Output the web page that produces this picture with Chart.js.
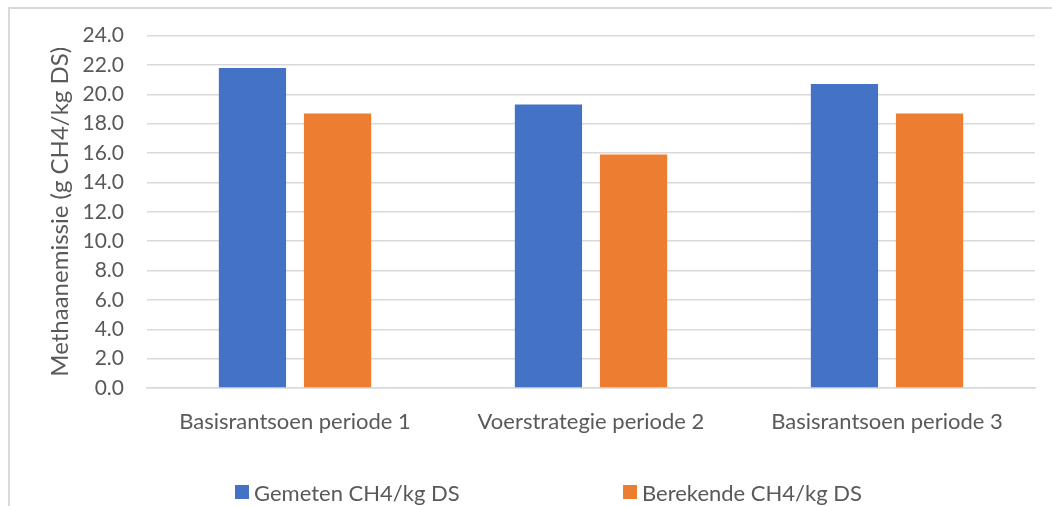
<!DOCTYPE html>
<html lang="nl">
<head>
<meta charset="utf-8">
<title>Methaanemissie per periode</title>
<script src="https://cdn.jsdelivr.net/npm/chart.js@4.4.1/dist/chart.umd.min.js"></script>
<style>
  html, body { margin: 0; padding: 0; background: #ffffff; }
  #wrap { position: relative; width: 1052px; height: 506px; overflow: hidden; }
  #frame {
    position: absolute; left: 8px; top: 7px; right: -20px; bottom: -20px;
    border: 2px solid #d9d9d9; pointer-events: none;
  }
  #chart { position: absolute; left: 0; top: 0; }
  #legend { position: absolute; left: 0; top: 480px; width: 1052px; height: 24px; }
  .legend-item {
    position: absolute; top: 0; height: 24px; display: flex; align-items: center;
    font-family: Lato, sans-serif; font-size: 22px; color: #595959; white-space: nowrap;
  }
  .legend-box { width: 14px; height: 14px; margin-right: 5px; }
</style>
</head>
<body>
<div id="wrap">
  <canvas id="chart" width="1052" height="506"></canvas>
  <div id="frame"></div>
  <div id="legend"></div>
</div>
<script>
// Periods on the category axis
const categories = ['Basisrantsoen periode 1', 'Voerstrategie periode 2', 'Basisrantsoen periode 3'];
// Methane emission, g CH4 per kg dry matter
const gemeten = [21.8, 19.3, 20.7];
const berekende = [18.7, 15.9, 18.7];
const seriesNames = ['Gemeten CH4/kg DS', 'Berekende CH4/kg DS'];
const seriesColors = ['#4472C4', '#ED7D31'];
// Value axis range and tick step
const yMin = 0;
const yMax = 24;
const yStep = 2;
const yTitle = 'Methaanemissie (g CH4/kg DS)';
// Left edge of each legend entry
const legendLefts = [235, 623];

const textColor = '#595959';
const gridColor = '#d9d9d9';
const tickFont = { family: 'Lato, sans-serif', size: 21 };
const labelFont = { family: 'Lato, sans-serif', size: 22 };
const titleFont = { family: 'Lato, sans-serif', size: 24 };

const chart = new Chart(document.getElementById('chart'), {
  type: 'bar',
  data: {
    labels: categories,
    datasets: [
      { label: seriesNames[0], data: gemeten, backgroundColor: seriesColors[0], borderWidth: 0 },
      { label: seriesNames[1], data: berekende, backgroundColor: seriesColors[1], borderWidth: 0 }
    ]
  },
  options: {
    responsive: false,
    animation: false,
    devicePixelRatio: 1,
    categoryPercentage: 0.575,
    barPercentage: 0.79,
    layout: { padding: { top: 35, right: 17, bottom: 0, left: 0 } },
    plugins: {
      legend: { display: false },
      tooltip: { enabled: false }
    },
    scales: {
      x: {
        grid: { display: false },
        border: { color: gridColor, width: 1.5 },
        ticks: { color: textColor, font: labelFont, padding: 13, maxRotation: 0 },
        afterFit: (scale) => { scale.height = 118; }
      },
      y: {
        min: yMin,
        max: yMax,
        grid: { color: gridColor, lineWidth: 1.5, drawTicks: false },
        border: { display: false },
        ticks: {
          stepSize: yStep,
          color: textColor,
          font: tickFont,
          padding: 23,
          callback: (v) => Number(v).toFixed(1)
        },
        title: {
          display: true,
          text: yTitle,
          color: textColor,
          font: titleFont,
          padding: { top: 46, bottom: 0 }
        },
        afterFit: (scale) => { scale.width = 147; }
      }
    }
  }
});

// Legend built from the chart's own legend items
const legendEl = document.getElementById('legend');
chart.options.plugins.legend.labels.generateLabels(chart).forEach((item, i) => {
  const entry = document.createElement('div');
  entry.className = 'legend-item';
  entry.style.left = legendLefts[i] + 'px';
  const box = document.createElement('span');
  box.className = 'legend-box';
  box.style.background = item.fillStyle;
  const text = document.createElement('span');
  text.textContent = item.text;
  entry.appendChild(box);
  entry.appendChild(text);
  legendEl.appendChild(entry);
});
</script>
</body>
</html>
